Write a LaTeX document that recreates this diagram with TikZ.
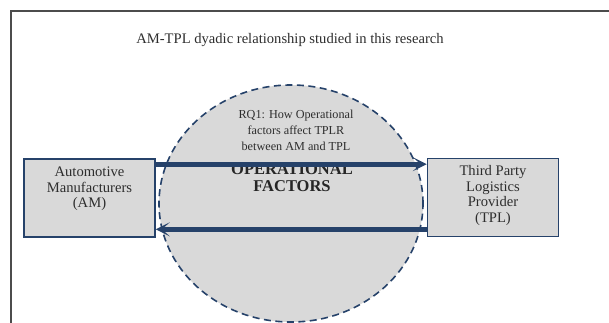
\documentclass[tikz,border=0pt]{standalone}
\usepackage{fontspec}
\setmainfont{Liberation Serif}
\usetikzlibrary{arrows.meta}
\usetikzlibrary{shapes.geometric}
\definecolor{navy}{RGB}{38,66,106}
\definecolor{panel}{RGB}{217,217,217}
\definecolor{ink}{RGB}{45,45,45}
\tikzstyle{frameline}=[draw=black!70, line width=1.8pt]
\tikzstyle{title}=[inner sep=0pt, text=ink, font=\fontsize{14.6}{16}\selectfont]
\tikzstyle{box}=[rectangle, draw=navy, line width=1.6pt, fill=panel, minimum width=131pt, minimum height=78pt, inner sep=0pt]
\tikzstyle{boxtext}=[inner sep=0pt, align=center, text=ink, font=\fontsize{14.6}{15.6}\selectfont]
\tikzstyle{ops}=[ellipse, draw=navy, fill=panel, line width=1.6pt, dash pattern=on 7pt off 4.5pt, minimum width=264pt, minimum height=237pt, inner sep=0pt]
\tikzstyle{rq}=[inner sep=0pt, align=center, text=ink, font=\fontsize{12.2}{16}\selectfont]
\tikzstyle{opslabel}=[inner sep=0pt, align=center, text=black!85, font=\fontsize{16.5}{17}\selectfont\bfseries]
\tikzstyle{flow}=[draw=navy, line width=4.6pt, -{Stealth[length=14pt, width=14pt, inset=8pt]}]

\begin{document}
\begin{tikzpicture}[x=1pt, y=-1pt]
	\useasboundingbox (0,0) rectangle (609,323);
	\draw[frameline] (609,11) -- (11,11) -- (11,323);
	\draw (290,40) node[title] (head) {AM-TPL dyadic relationship studied in this research};
	%
	\draw (291,203.5) node[ops] (opf) {};
	\draw (296,130) node[rq] (q1) {RQ1: How Operational\\factors affect TPLR\\between AM and TPL};
	\draw (292,178) node[opslabel] (opt) {OPERATIONAL\\FACTORS};
	%
	\draw (89.5,198) node[box] (am) {};
	\draw (493,197.5) node[box] (tpl) {};
	\draw ([yshift=9pt]am.center) node[boxtext] (amt) {Automotive\\Manufacturers\\(AM)};
	\draw ([yshift=2pt]tpl.center) node[boxtext] (tplt) {Third Party\\Logistics\\Provider\\(TPL)};
	%
	\draw[flow] ([yshift=-6pt]am.north east) -- ([yshift=-6pt]am.north east -| tpl.west);
	\draw[flow] ([yshift=8pt]tpl.south west) -- ([yshift=8pt]tpl.south west -| am.east);
\end{tikzpicture}
\end{document}
